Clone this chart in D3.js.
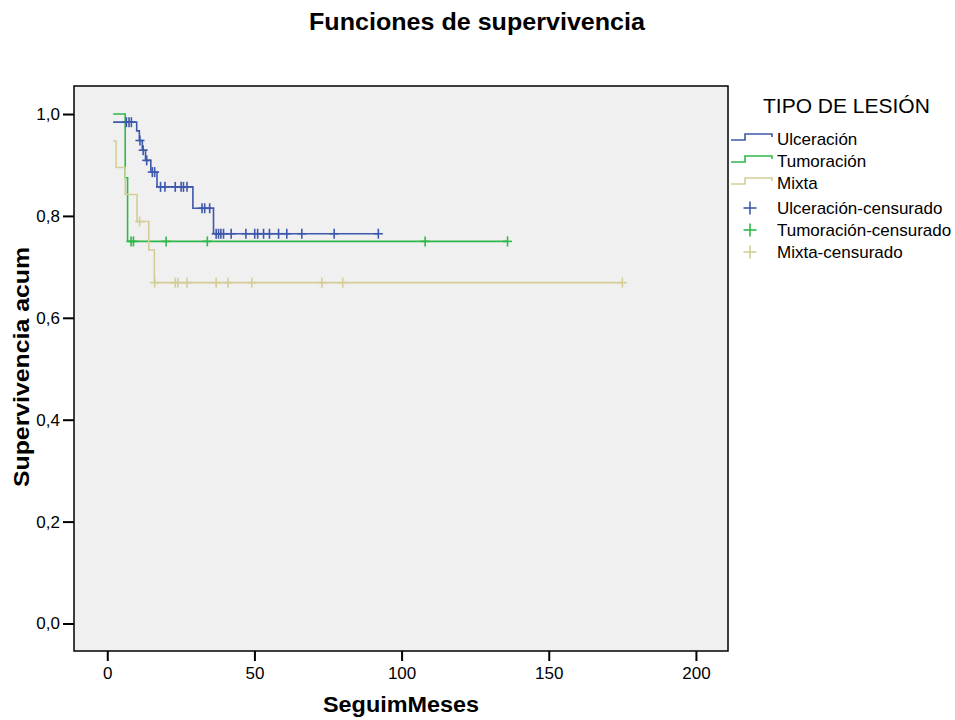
<!DOCTYPE html>
<html>
<head>
<meta charset="utf-8">
<script src="https://cdn.jsdelivr.net/npm/d3@7"></script>
<style>
  body { margin: 0; background: #fff; }
  svg { display: block; font-family: "Liberation Sans", Arial, sans-serif; }
</style>
</head>
<body>
<svg id="chart" width="955" height="720"></svg>
<script>
// ---- Data ----
const seriesNames = ["Ulceración", "Tumoración", "Mixta"];
const censorNames = ["Ulceración-censurado", "Tumoración-censurado", "Mixta-censurado"];

// step change times and survival after each step
const ulcTimes = [2, 10.0, 10.9, 11.9, 13.0, 14.8, 16.9, 29.1, 36.1, 92.1];
const ulcSurv  = [0.984, 0.967, 0.948, 0.929, 0.909, 0.886, 0.857, 0.815, 0.765, 0.765];
const ulcCens  = [6.5, 7.4, 8.2, 11.1, 12.2, 13.4, 15.3, 16.1, 18.1, 19.6, 23.1, 25.1, 25.9, 27.1,
                  32.2, 33.1, 34.8, 37.0, 37.8, 38.6, 39.5, 42.1, 47.1, 50.1, 51.1, 53.1, 55.1,
                  58.2, 61.0, 66.1, 77.1, 92.1];

const tumTimes = [2, 6.1, 6.9, 136];
const tumSurv  = [1.0, 0.875, 0.75, 0.75];
const tumCens  = [8.1, 8.9, 20, 34, 108, 136];

const mixTimes = [2, 3.0, 6.1, 10.1, 14.1, 16.0, 175];
const mixSurv  = [0.947, 0.895, 0.842, 0.789, 0.733, 0.669, 0.669];
const mixCens  = [11, 16.1, 23.1, 24, 27.1, 37, 41, 49.1, 72.9, 80, 175];

const xTicks = [0, 50, 100, 150, 200];
const yTicks = [0, 0.2, 0.4, 0.6, 0.8, 1.0];
const colors = ["#3E58AC", "#2EB848", "#D4CE96"];

const series = [
  { times: ulcTimes, surv: ulcSurv, cens: ulcCens },
  { times: tumTimes, surv: tumSurv, cens: tumCens },
  { times: mixTimes, surv: mixSurv, cens: mixCens }
];

// ---- Layout ----
const svg = d3.select("#chart");
const x = d3.scaleLinear().domain([-11.3, 210.9]).range([74, 728]);
const y = d3.scaleLinear().domain([-0.054, 1.055]).range([651, 86]);

svg.append("text").attr("x", 477).attr("y", 30).attr("text-anchor", "middle")
  .attr("font-size", 24).attr("font-weight", "bold")
  .attr("textLength", 336).attr("lengthAdjust", "spacingAndGlyphs")
  .text("Funciones de supervivencia");

// plot background
svg.append("rect")
  .attr("x", x.range()[0]).attr("y", y.range()[1])
  .attr("width", x.range()[1] - x.range()[0]).attr("height", y.range()[0] - y.range()[1])
  .attr("fill", "#F0F0F0");

const plot = svg.append("g");

function stepValue(s, t) {
  let v = s.surv[0];
  for (let i = 0; i < s.times.length; i++) if (s.times[i] <= t) v = s.surv[i];
  return v;
}

const line = d3.line().x(d => x(d[0])).y(d => y(d[1])).curve(d3.curveStepAfter);

series.forEach((s, i) => {
  const pts = s.times.map((t, j) => [t, s.surv[j]]);
  plot.append("path").attr("d", line(pts)).attr("fill", "none")
    .attr("stroke", colors[i]).attr("stroke-width", 1.6);
});
series.forEach((s, i) => {
  const g = plot.append("g").attr("stroke", colors[i]).attr("stroke-width", 1.6);
  s.cens.forEach(t => {
    const cx = x(t), cy = y(stepValue(s, t));
    g.append("line").attr("x1", cx).attr("x2", cx).attr("y1", cy - 5).attr("y2", cy + 5);
    g.append("line").attr("x1", cx - 4.5).attr("x2", cx + 4.5).attr("y1", cy).attr("y2", cy);
  });
});

// frame
svg.append("rect")
  .attr("x", x.range()[0]).attr("y", y.range()[1])
  .attr("width", x.range()[1] - x.range()[0]).attr("height", y.range()[0] - y.range()[1])
  .attr("fill", "none").attr("stroke", "#000").attr("stroke-width", 1.5);

// axes
const xAxis = svg.append("g").attr("transform", `translate(0,${y.range()[0]})`)
  .call(d3.axisBottom(x).tickValues(xTicks).tickSize(10).tickPadding(6).tickFormat(d3.format("d")));
const yAxis = svg.append("g").attr("transform", `translate(${x.range()[0]},0)`)
  .call(d3.axisLeft(y).tickValues(yTicks).tickSize(11).tickPadding(3)
    .tickFormat(d => d3.format(".1f")(d).replace(".", ",")));
[xAxis, yAxis].forEach(a => {
  a.select(".domain").remove();
  a.selectAll(".tick line").attr("stroke", "#000").attr("stroke-width", 2);
  a.selectAll(".tick text").attr("font-size", 17).attr("fill", "#000")
    .attr("font-family", "Liberation Sans, Arial, sans-serif");
});

svg.append("text").attr("x", 401).attr("y", 712).attr("text-anchor", "middle")
  .attr("font-size", 22).attr("font-weight", "bold")
  .attr("textLength", 156).attr("lengthAdjust", "spacingAndGlyphs")
  .text("SeguimMeses");
svg.append("text").attr("transform", "translate(29,367) rotate(-90)").attr("text-anchor", "middle")
  .attr("font-size", 22).attr("font-weight", "bold")
  .attr("textLength", 240).attr("lengthAdjust", "spacingAndGlyphs")
  .text("Supervivencia acum");

// legend
const lg = svg.append("g");
lg.append("text").attr("x", 763).attr("y", 113).attr("font-size", 21).text("TIPO DE LESIÓN");
const lineRows = [139, 161, 183];
seriesNames.forEach((n, i) => {
  const cy = lineRows[i];
  lg.append("path")
    .attr("d", `M731,${cy + 1}H745V${cy - 5}H772V${cy - 2}`)
    .attr("fill", "none").attr("stroke", colors[i]).attr("stroke-width", 1.6);
  lg.append("text").attr("x", 777).attr("y", cy + 6).attr("font-size", 17).text(n);
});
const censRows = [208, 230, 252];
censorNames.forEach((n, i) => {
  const cy = censRows[i];
  lg.append("line").attr("x1", 743.5).attr("x2", 756.5).attr("y1", cy).attr("y2", cy)
    .attr("stroke", colors[i]).attr("stroke-width", 1.6);
  lg.append("line").attr("x1", 750).attr("x2", 750).attr("y1", cy - 6.5).attr("y2", cy + 6.5)
    .attr("stroke", colors[i]).attr("stroke-width", 1.6);
  lg.append("text").attr("x", 777).attr("y", cy + 6).attr("font-size", 17).text(n);
});
</script>
</body>
</html>
